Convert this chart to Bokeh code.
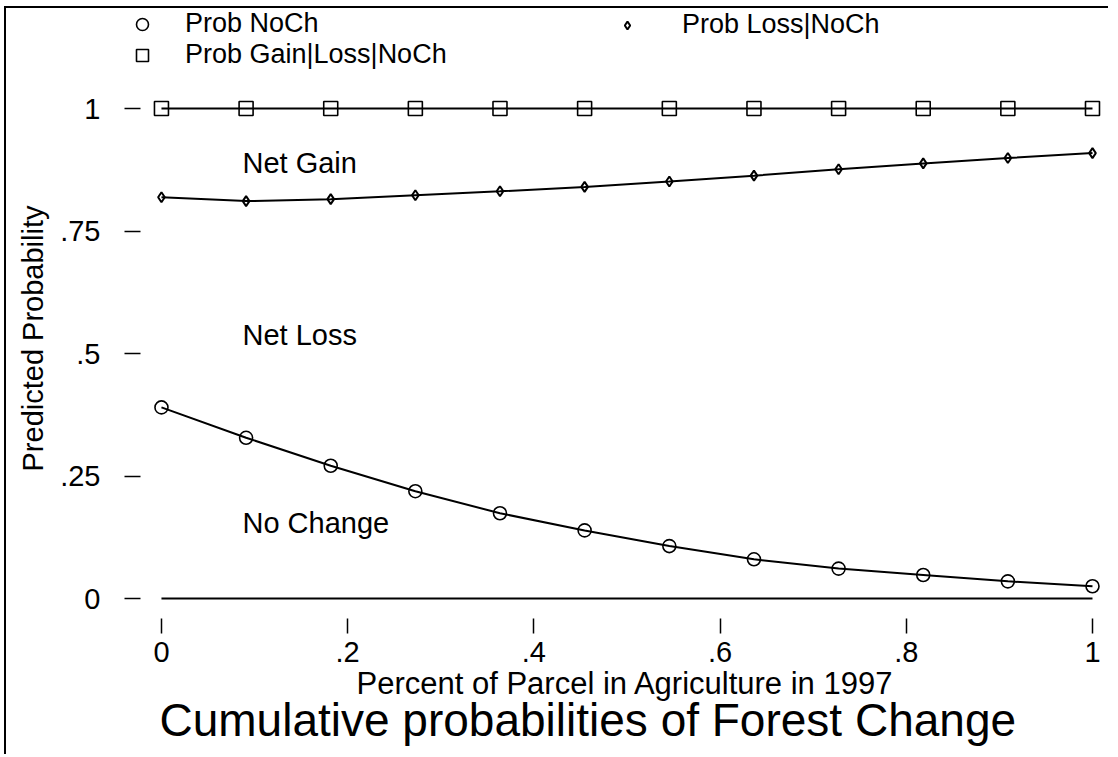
from bokeh.plotting import figure
from bokeh.models import Range1d, Legend, LegendItem, Title, FixedTicker, ColumnDataSource
from bokeh.core.properties import value
from bokeh.embed import file_html
from bokeh.resources import INLINE

# ---- data ----
x_vals = [0.0, 0.0909, 0.1818, 0.2727, 0.3636, 0.4545, 0.5455, 0.6364, 0.7273, 0.8182, 0.9091, 1.0]
prob_noch = [0.390, 0.328, 0.271, 0.219, 0.174, 0.139, 0.107, 0.080, 0.061, 0.048, 0.035, 0.025]
prob_loss_noch = [0.819, 0.811, 0.815, 0.823, 0.831, 0.840, 0.851, 0.863, 0.876, 0.888, 0.899, 0.909]
prob_gain_loss_noch = [1.0, 1.0, 1.0, 1.0, 1.0, 1.0, 1.0, 1.0, 1.0, 1.0, 1.0, 1.0]
zero_line = [0.0, 0.0, 0.0, 0.0, 0.0, 0.0, 0.0, 0.0, 0.0, 0.0, 0.0, 0.0]

ann_x = [0.087, 0.087, 0.087]
ann_y = [0.888, 0.537, 0.155]
ann_text = ["Net Gain", "Net Loss", "No Change"]

x_ticks = [0, 0.2, 0.4, 0.6, 0.8, 1.0]
x_tick_labels = ["0", ".2", ".4", ".6", ".8", "1"]
y_ticks = [0, 0.25, 0.5, 0.75, 1.0]
y_tick_labels = ["0", ".25", ".5", ".75", "1"]

legend_labels = ["Prob NoCh", "Prob Loss|NoCh", "Prob Gain|Loss|NoCh"]
title_text = "Cumulative probabilities of Forest Change"
x_title = "Percent of Parcel in Agriculture in 1997"
y_title = "Predicted Probability"

FONT = "Liberation Sans"

p = figure(width=1104, height=748, output_backend="svg", toolbar_location=None,
           x_range=Range1d(-0.0397, 1.0129), y_range=Range1d(-0.0408, 1.2041),
           min_border_left=118, min_border_right=6, min_border_top=0, min_border_bottom=138)
p.styles = {"border-left": "2px solid black", "border-top": "2px solid black",
            "margin-left": "4px", "margin-top": "6px"}
p.outline_line_color = None
p.grid.visible = False
p.background_fill_color = "white"
p.border_fill_color = "white"

# axes
xa = p.xaxis[0]
xa.ticker = FixedTicker(ticks=x_ticks)
xa.major_label_overrides = {t: l for t, l in zip(x_ticks, x_tick_labels)}
xa.axis_line_color = None
xa.major_tick_in = 0
xa.major_tick_out = 15
xa.major_tick_line_width = 1.5
xa.major_tick_line_color = "black"
xa.minor_tick_line_color = None
xa.major_label_standoff = 8
xa.major_label_text_font = FONT
xa.major_label_text_font_size = "29px"
xa.major_label_text_color = "black"

ya = p.yaxis[0]
ya.ticker = FixedTicker(ticks=y_ticks)
ya.major_label_overrides = {t: l for t, l in zip(y_ticks, y_tick_labels)}
ya.axis_line_color = None
ya.major_tick_in = 16
ya.major_tick_out = 0
ya.major_tick_line_width = 1.5
ya.major_tick_line_color = "black"
ya.minor_tick_line_color = None
ya.major_label_standoff = 24
ya.major_label_text_font = FONT
ya.major_label_text_font_size = "29px"
ya.major_label_text_color = "black"
ya.major_label_orientation = "horizontal"

# lines
p.line(x_vals, zero_line, line_color="black", line_width=2)
p.line(x_vals, prob_gain_loss_noch, line_color="black", line_width=2)
p.line(x_vals, prob_loss_noch, line_color="black", line_width=2)
p.line(x_vals, prob_noch, line_color="black", line_width=2)

r_noch = p.scatter(x_vals, prob_noch, marker="circle", size=13, fill_color=None,
                   line_color="black", line_width=1.6)
r_loss = p.scatter(x_vals, prob_loss_noch, marker="diamond", size=10, fill_color=None,
                   line_color="black", line_width=2)
r_gain = p.scatter(x_vals, prob_gain_loss_noch, marker="square", size=14, fill_color=None,
                   line_color="black", line_width=1.6)

# annotations
src = ColumnDataSource(dict(x=ann_x, y=ann_y, t=ann_text))
p.text(x="x", y="y", text="t", source=src, text_font=value(FONT), text_font_size="29px",
       text_baseline="middle", text_align="left", text_color="black")

# legends
legA = Legend(items=[LegendItem(label=legend_labels[0], renderers=[r_noch]),
                     LegendItem(label=legend_labels[2], renderers=[r_gain])],
              location=(3, 548), orientation="vertical", padding=0, margin=0, spacing=-2,
              glyph_width=30, glyph_height=30, label_standoff=28,
              border_line_color=None, background_fill_alpha=0,
              label_text_font=FONT, label_text_font_size="27px", label_text_color="black")
legB = Legend(items=[LegendItem(label=legend_labels[1], renderers=[r_loss])],
              location=(493, 578), orientation="vertical", padding=0, margin=0, spacing=0,
              glyph_width=20, glyph_height=20, label_standoff=45,
              border_line_color=None, background_fill_alpha=0,
              label_text_font=FONT, label_text_font_size="27px", label_text_color="black")
p.add_layout(legA)
p.add_layout(legB)

# titles
p.add_layout(Title(text=y_title, align="left", offset=147, text_font=FONT, text_color="black",
                   text_font_size="29px", text_font_style="normal", standoff=17), "left")
p.add_layout(Title(text=x_title, align="left", offset=232, text_font=FONT, text_color="black",
                   text_font_size="31px", text_font_style="normal", standoff=-2), "below")
p.add_layout(Title(text=title_text, align="left", offset=35, text_font=FONT, text_color="black",
                   text_font_size="46px", text_font_style="normal", standoff=-16), "below")

open("out.html", "w").write(file_html(p, INLINE))
